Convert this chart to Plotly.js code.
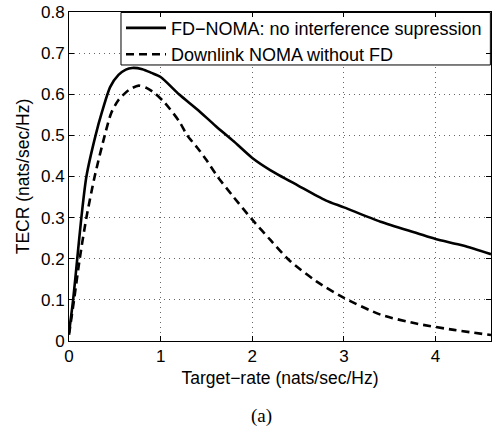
<!DOCTYPE html>
<html>
<head>
<meta charset="utf-8">
<script src="https://cdn.plot.ly/plotly-3.0.1.min.js"></script>
<style>
  html, body { margin: 0; padding: 0; background: #fff; }
  #chart { width: 492px; height: 432px; }
</style>
</head>
<body>
<div id="chart"></div>
<script>
// Target-rate (nats/sec/Hz) and TECR readings
const xFD = [0, 0.045, 0.09, 0.135, 0.19, 0.29, 0.36, 0.45, 0.54, 0.62, 0.69, 0.8, 0.9, 1.0, 1.2, 1.4, 1.6, 1.8, 2.0, 2.2, 2.5, 2.8, 3.0, 3.4, 3.8, 4.0, 4.3, 4.605];
const yFD = [0.02, 0.1, 0.2, 0.3, 0.4, 0.5, 0.557, 0.618, 0.647, 0.66, 0.664, 0.661, 0.652, 0.642, 0.6, 0.563, 0.523, 0.485, 0.445, 0.415, 0.378, 0.342, 0.325, 0.29, 0.262, 0.248, 0.232, 0.211];

const xDL = [0, 0.055, 0.117, 0.19, 0.28, 0.39, 0.46, 0.54, 0.65, 0.76, 0.85, 0.94, 1.05, 1.2, 1.29, 1.4, 1.5, 1.62, 1.8, 2.0, 2.2, 2.4, 2.7, 3.0, 3.4, 3.8, 4.2, 4.605];
const yDL = [0.015, 0.1, 0.2, 0.3, 0.4, 0.5, 0.554, 0.586, 0.61, 0.621, 0.615, 0.602, 0.578, 0.535, 0.5, 0.47, 0.44, 0.4, 0.349, 0.295, 0.245, 0.197, 0.145, 0.105, 0.064, 0.042, 0.027, 0.0145];

const seriesNames = ["FD\u2212NOMA: no interference supression", "Downlink NOMA without FD"];
const xTicks = [0, 1, 2, 3, 4];
const yTicks = [0, 0.1, 0.2, 0.3, 0.4, 0.5, 0.6, 0.7, 0.8];
const xTitle = "Target\u2212rate (nats/sec/Hz)";
const yTitle = "TECR (nats/sec/Hz)";
const caption = "(a)";

const X_RANGE = [0, 4.605];
const Y_RANGE = [0, 0.8];

const FONT = '"Liberation Sans", Arial, sans-serif';
const SERIF = '"Liberation Serif", "Times New Roman", serif';

const traces = [
  { x: xFD, y: yFD, type: "scatter", mode: "lines", name: seriesNames[0],
    line: { color: "#000", width: 2.6, shape: "spline", smoothing: 0.7 } },
  { x: xDL, y: yDL, type: "scatter", mode: "lines", name: seriesNames[1],
    line: { color: "#000", width: 2.6, dash: "8px,5px", shape: "spline", smoothing: 0.7 } }
];

const axisCommon = {
  showline: true, linecolor: "#000", linewidth: 1, mirror: "ticks",
  ticks: "inside", ticklen: 5, tickcolor: "#000",
  showgrid: true, gridcolor: "#666", griddash: "1px,4px", gridwidth: 1,
  zeroline: false,
  tickfont: { family: FONT, size: 17, color: "#000" }
};

// legend box (fractions of the plot area)
const boxFrac = { x0: 0.1232, x1: 0.9985, y0: 0.839, y1: 0.9985 };
const fx = f => X_RANGE[0] + f * (X_RANGE[1] - X_RANGE[0]);
const fy = f => Y_RANGE[0] + f * (Y_RANGE[1] - Y_RANGE[0]);

const layout = {
  width: 492, height: 432,
  margin: { l: 69, r: 1, t: 12, b: 91, autoexpand: false },
  paper_bgcolor: "#fff", plot_bgcolor: "#fff",
  font: { family: FONT, color: "#000" },
  showlegend: true,
  legend: {
    x: 0.1232, y: 1.007, xanchor: "left", yanchor: "top",
    bgcolor: "rgba(0,0,0,0)", borderwidth: 0,
    font: { family: FONT, size: 18, color: "#000" },
    itemwidth: 40, tracegroupgap: 0
  },
  shapes: [{
    type: "rect", xref: "x", yref: "y",
    x0: fx(boxFrac.x0), x1: fx(boxFrac.x1), y0: fy(boxFrac.y0), y1: fy(boxFrac.y1),
    fillcolor: "#fff", line: { color: "#000", width: 1 }, layer: "between"
  }],
  xaxis: Object.assign({}, axisCommon, {
    range: X_RANGE, tickvals: xTicks, ticktext: xTicks.map(String),
    title: { text: xTitle, font: { family: FONT, size: 17.5, color: "#000" }, standoff: 6 }
  }),
  yaxis: Object.assign({}, axisCommon, {
    range: Y_RANGE, tickvals: yTicks, ticktext: yTicks.map(v => v === 0 ? "0" : String(v)),
    title: { text: yTitle, font: { family: FONT, size: 17.5, color: "#000" }, standoff: 6 }
  }),
  annotations: [{
    text: caption, xref: "paper", yref: "paper", x: 0.457, y: -0.228,
    xanchor: "center", yanchor: "middle", showarrow: false,
    font: { family: SERIF, size: 19, color: "#000" }
  }]
};

Plotly.newPlot("chart", traces, layout, { displayModeBar: false, staticPlot: true });
</script>
</body>
</html>
